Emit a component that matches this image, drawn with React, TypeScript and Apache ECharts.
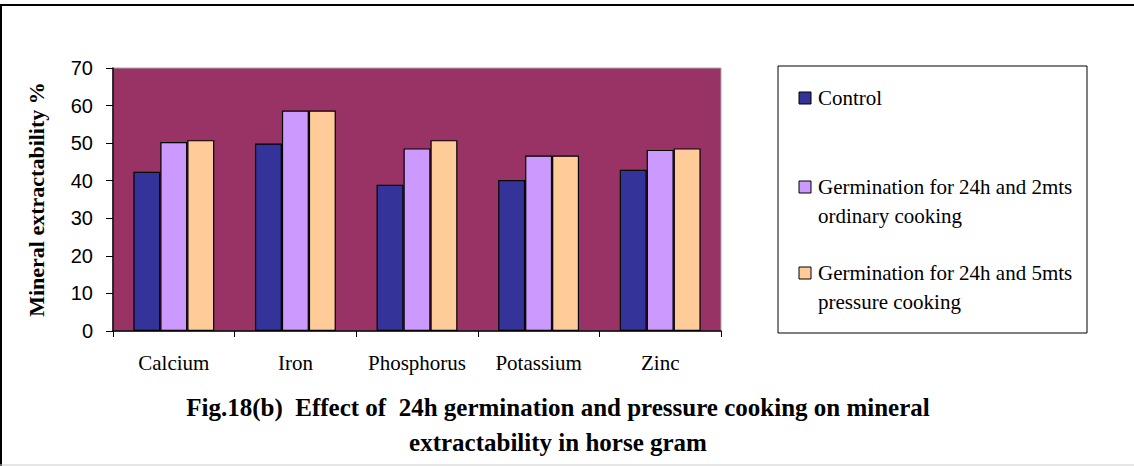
import React, { useEffect, useRef } from "react";
import * as echarts from "echarts";

const minerals = ["Calcium", "Iron", "Phosphorus", "Potassium", "Zinc"];
const seriesNames = [
  "Control",
  "Germination for 24h and 2mts\nordinary cooking",
  "Germination for 24h and 5mts\npressure cooking",
];
const control = [42.4, 49.9, 38.9, 40.2, 42.9];
const germOrdinary = [50.3, 58.7, 48.6, 46.7, 48.2];
const germPressure = [50.8, 58.7, 50.8, 46.7, 48.6];
const barColors = ["#333399", "#CC99FF", "#FFCC99"];
const yTicks = { min: 0, max: 70, interval: 10 };
const yTitle = "Mineral extractability %";
const caption = [
  "Fig.18(b)  Effect of  24h germination and pressure cooking on mineral",
  "extractability in horse gram",
];

const serif = "Liberation Serif";
const sans = "Liberation Sans";

export default function App() {
  const ref = useRef<HTMLDivElement>(null);

  useEffect(() => {
    if (!ref.current) return;
    const chart = echarts.init(ref.current, null, { renderer: "svg" });
    const values = [control, germOrdinary, germPressure];

    // legend drawn as a boxed panel with wrapped entries
    const legendTop = [92, 181, 267];
    const legendItems: any[] = [];
    seriesNames.forEach((name, i) => {
      legendItems.push({
        type: "rect",
        shape: { x: 799, y: legendTop[i], width: 12, height: 12 },
        style: { fill: barColors[i], stroke: "#000", lineWidth: 1 },
      });
      legendItems.push({
        type: "text",
        x: 818,
        y: legendTop[i] - 9,
        style: {
          text: name,
          fontFamily: serif,
          fontSize: 21,
          fill: "#000",
          lineHeight: 29,
          verticalAlign: "top",
        },
      });
    });

    chart.setOption({
      animation: false,
      backgroundColor: "#ffffff",
      title: {
        text: caption.join("\n"),
        left: 558,
        top: 390,
        textAlign: "center",
        padding: 0,
        textStyle: {
          fontFamily: serif,
          fontWeight: "bold",
          fontSize: 25,
          lineHeight: 35,
          color: "#000",
        },
      },
      grid: {
        left: 113,
        top: 68,
        width: 608,
        height: 263,
        show: true,
        backgroundColor: "#993366",
        borderColor: "#a8a8a8",
        borderWidth: 1,
      },
      xAxis: {
        type: "category",
        data: minerals,
        axisLine: { lineStyle: { color: "#000", width: 1.5 } },
        axisTick: { show: true, length: 6, lineStyle: { color: "#000" } },
        axisLabel: {
          interval: 0,
          margin: 21,
          color: "#000",
          fontFamily: serif,
          fontSize: 21,
        },
      },
      yAxis: {
        type: "value",
        min: yTicks.min,
        max: yTicks.max,
        interval: yTicks.interval,
        name: yTitle,
        nameLocation: "middle",
        nameGap: 66,
        nameTextStyle: {
          fontFamily: serif,
          fontWeight: "bold",
          fontSize: 22,
          color: "#000",
        },
        axisLine: { show: true, lineStyle: { color: "#000", width: 1.5 } },
        axisTick: { show: true, length: 7, lineStyle: { color: "#000" } },
        splitLine: { show: false },
        axisLabel: {
          margin: 20,
          color: "#000",
          fontFamily: sans,
          fontSize: 20,
        },
      },
      series: seriesNames.map((name, i) => ({
        name,
        type: "bar",
        data: values[i],
        barGap: "0%",
        barCategoryGap: "33.5%",
        itemStyle: {
          color: barColors[i],
          borderColor: "#000",
          borderWidth: 1.2,
        },
      })),
      graphic: [
        // outer frame
        {
          type: "line",
          shape: { x1: 0, y1: 5, x2: 1134, y2: 5 },
          style: { stroke: "#000", lineWidth: 2 },
        },
        {
          type: "line",
          shape: { x1: 1, y1: 5, x2: 1, y2: 466 },
          style: { stroke: "#000", lineWidth: 2 },
        },
        {
          type: "line",
          shape: { x1: 0, y1: 465, x2: 1134, y2: 465 },
          style: { stroke: "#cccccc", lineWidth: 1 },
        },
        // legend panel
        {
          type: "rect",
          shape: { x: 778, y: 66, width: 309, height: 267 },
          style: { fill: "#fff", stroke: "#000", lineWidth: 1 },
        },
        ...legendItems,
      ],
    });

    return () => chart.dispose();
  }, []);

  return (
    <div
      ref={ref}
      style={{ position: "fixed", left: 0, top: 0, width: 1134, height: 466 }}
    />
  );
}
